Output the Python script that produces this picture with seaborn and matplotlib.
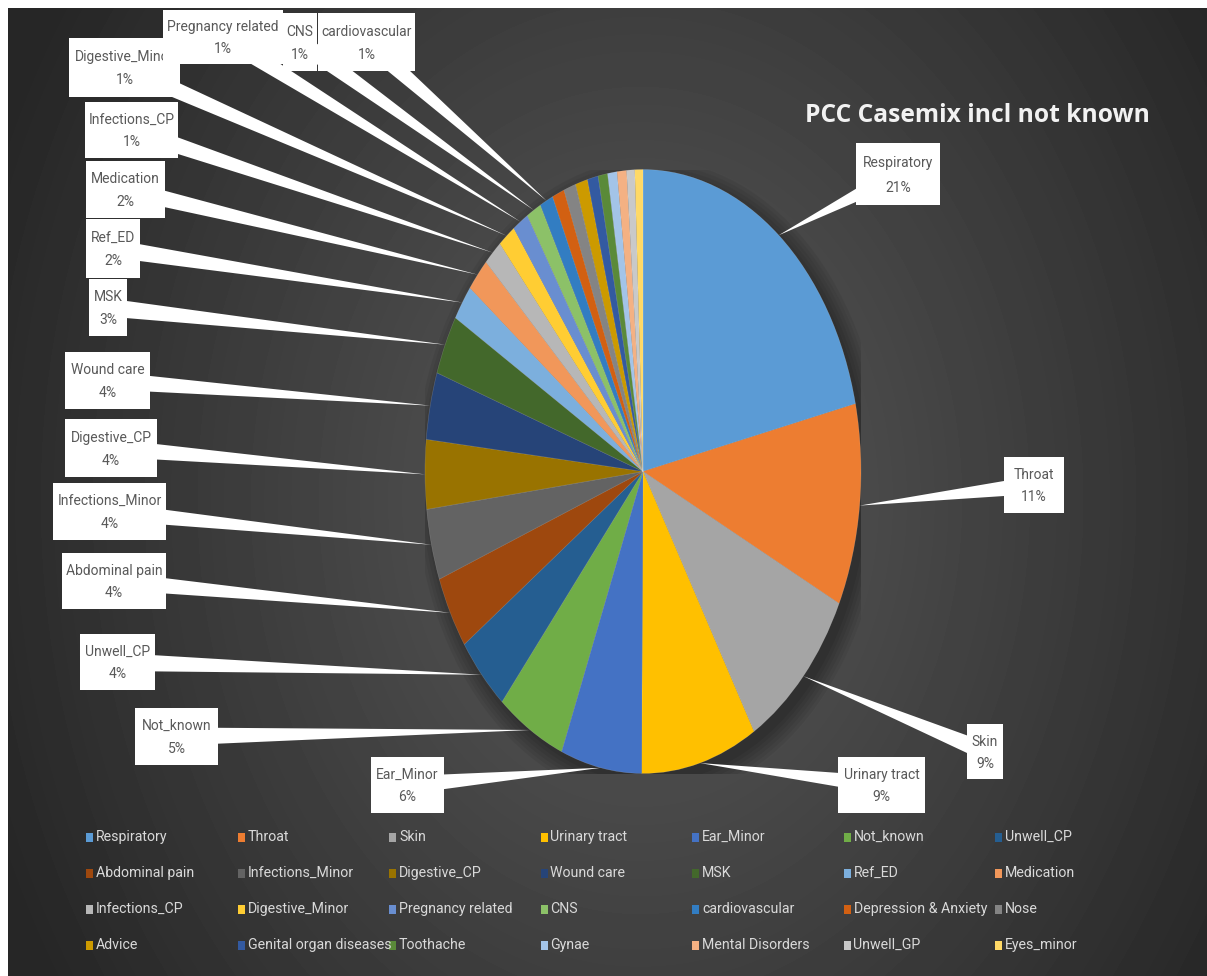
import numpy as np
import matplotlib
matplotlib.use("Agg")
import matplotlib.pyplot as plt
from matplotlib.patches import Rectangle, Polygon, Ellipse
from matplotlib import font_manager
import seaborn as sns

# ---------------- data ----------------
categories = ["Respiratory", "Throat", "Skin", "Urinary tract", "Ear_Minor", "Not_known",
              "Unwell_CP", "Abdominal pain", "Infections_Minor", "Digestive_CP", "Wound care",
              "MSK", "Ref_ED", "Medication", "Infections_CP", "Digestive_Minor",
              "Pregnancy related", "CNS", "cardiovascular", "Depression & Anxiety", "Nose",
              "Advice", "Genital organ diseases", "Toothache", "Gynae", "Mental Disorders",
              "Unwell_GP", "Eyes_minor"]
values = [21.4, 10.8, 9.3, 8.6, 6.0, 5.1, 4.1, 3.9, 3.8, 3.7, 3.6, 3.2, 1.9, 1.8,
          1.4, 1.3, 1.2, 1.1, 1.0, 0.9, 0.9, 0.9, 0.8, 0.7, 0.7, 0.7, 0.6, 0.6]
labeled = categories[:19]
colors = ["#5B9BD5", "#ED7D31", "#A5A5A5", "#FFC000", "#4472C4", "#70AD47",
          "#255E91", "#9E480E", "#636363", "#997300", "#264478", "#43682B",
          "#7CAFDD", "#F1975A", "#B7B7B7", "#FFCD33", "#698ED0", "#8CC168",
          "#327DC2", "#D26012", "#848484", "#CC9A00", "#335AA1", "#5A8A39",
          "#A3C4E8", "#F4B183", "#C9C9C9", "#FFD966"]
title = "PCC Casemix incl not known"

# ---------------- layout (pixels) ----------------
W, H = 1207, 976
CX, CY, RX, RY = 643, 471.5, 218, 302
label_boxes = {
    "Respiratory": (856, 143, 940, 205),
    "Throat": (1004, 457, 1064, 513),
    "Skin": (967, 724, 1003, 779),
    "Urinary tract": (838, 757, 925, 813),
    "Ear_Minor": (371, 757, 444, 813),
    "Not_known": (135, 708, 218, 765),
    "Unwell_CP": (80, 634, 155, 690),
    "Abdominal pain": (62, 553, 166, 609),
    "Infections_Minor": (53, 483, 166, 540),
    "Digestive_CP": (65, 419, 157, 477),
    "Wound care": (65, 352, 150, 409),
    "MSK": (89, 279, 127, 336),
    "Ref_ED": (86, 219, 140, 278),
    "Medication": (86, 161, 165, 218),
    "Infections_CP": (85, 102, 178, 158),
    "Digestive_Minor": (69, 38, 180, 97),
    "Pregnancy related": (163, 10, 283, 64),
    "CNS": (283, 13, 317, 71),
    "cardiovascular": (318, 13, 415, 71),
}

sns.set_theme(style="white")
avail = {f.name for f in font_manager.fontManager.ttflist}
narrow = "Liberation Sans Narrow" if "Liberation Sans Narrow" in avail else "Roboto"
plt.rcParams["font.family"] = [narrow, "DejaVu Sans"]

fig = plt.figure(figsize=(W / 100, H / 100), dpi=100)
fig.patch.set_facecolor("white")

# background gradient
bg = fig.add_axes([0, 0, 1, 1], zorder=0)
yy, xx = np.mgrid[8:H, 8:W]
d = np.sqrt(((xx - 640) / 700.0) ** 2 + ((yy - 500) / 900.0) ** 2)
t = np.clip(d, 0, 1) ** 1.1
img = (0x58 + (0x26 - 0x58) * t) / 255.0
bg.imshow(img, cmap="gray", vmin=0, vmax=1, extent=(8, W, H, 8), aspect="auto",
          interpolation="bilinear")
bg.set_xlim(0, W); bg.set_ylim(H, 0); bg.axis("off")

# pie
axp = fig.add_axes([(CX - RX) / W, 1 - (CY + RY) / H, 2 * RX / W, 2 * RY / H], zorder=1)
for k in range(6):
    axp.add_patch(Ellipse((0.03, -0.03), 2.0 + 0.03 * k, 2.0 + 0.025 * k,
                          facecolor="black", edgecolor="none", alpha=0.06, zorder=0))
wedges, _ = axp.pie(values, colors=colors, startangle=90, counterclock=False, radius=1,
                    wedgeprops=dict(edgecolor=(1, 1, 1, 0.2), linewidth=0.4))
axp.set_xlim(-1, 1); axp.set_ylim(-1, 1); axp.set_aspect("auto"); axp.axis("off")
axp.patch.set_alpha(0)

# overlay
ov = fig.add_axes([0, 0, 1, 1], zorder=2)
ov.set_xlim(0, W); ov.set_ylim(H, 0); ov.axis("off"); ov.patch.set_alpha(0)

total = sum(values)
fig.canvas.draw()
for i, name in enumerate(labeled):
    w = wedges[i]
    th = np.deg2rad((w.theta1 + w.theta2) / 2)
    disp = axp.transData.transform((np.cos(th), np.sin(th)))
    tx, ty = ov.transData.inverted().transform(disp)
    x0, y0, x1, y1 = label_boxes[name]
    bx, by = (x0 + x1) / 2, (y0 + y1) / 2
    vx, vy = tx - bx, ty - by
    L = np.hypot(vx, vy)
    px, py = -vy / L * 9, vx / L * 9
    ov.add_patch(Polygon([(bx + px, by + py), (bx - px, by - py), (tx, ty)],
                         closed=True, facecolor="white", edgecolor="none", zorder=5))
    z = 10 + 2 * i
    ov.add_patch(Rectangle((x0, y0), x1 - x0, y1 - y0, facecolor="white",
                           edgecolor="none", zorder=z))
    pct = f"{round(values[i] / total * 100):.0f}%"
    ov.text(bx, y0 + (y1 - y0) * 0.32, name, ha="center", va="center", fontsize=10,
            color="#595959", zorder=z + 1)
    ov.text(bx, y0 + (y1 - y0) * 0.72, pct, ha="center", va="center", fontsize=10,
            color="#595959", zorder=z + 1)

# title
tt = ov.text(805, 115, title, ha="left", va="center", fontsize=20, fontweight="bold",
             color="#F2F2F2", family=["Open Sans", "DejaVu Sans"], zorder=50)
fig.canvas.draw()
ext = tt.get_window_extent()
tt.set_fontsize(20 * 345 / ext.width)

# legend (4 rows x 7 columns, row-major)
for i, (name, col) in enumerate(zip(categories, colors)):
    r, c = divmod(i, 7)
    lx = 86 + c * 151.5
    ly = 837 + r * 36
    ov.add_patch(Rectangle((lx, ly - 4.5), 7, 9, facecolor=col, edgecolor="none", zorder=20))
    ov.text(lx + 10, ly, name, ha="left", va="center", fontsize=10.2, color="#D9D9D9",
            zorder=21)

fig.savefig("out.png", dpi=100, facecolor="white")
